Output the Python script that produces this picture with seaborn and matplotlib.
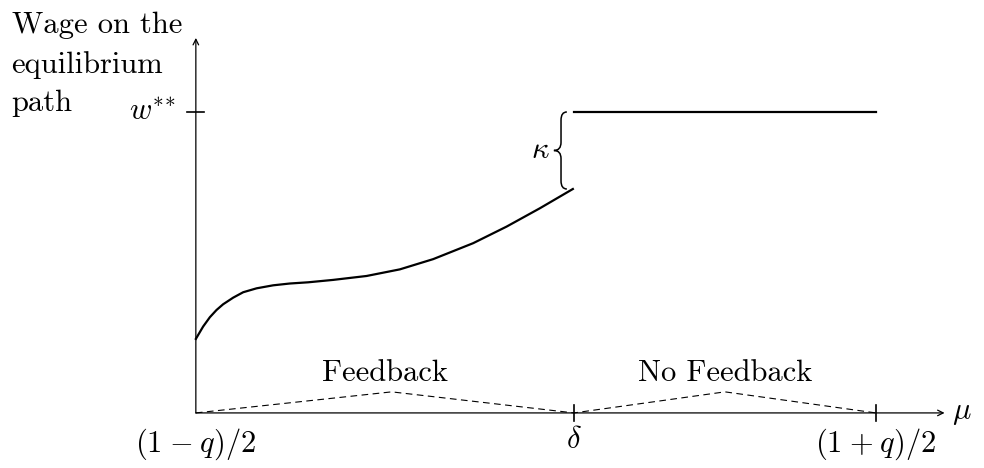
import pandas as pd
import seaborn as sns
import matplotlib
matplotlib.use("Agg")
from matplotlib import pyplot as plt
from matplotlib.path import Path
from matplotlib.patches import PathPatch

# wage on the equilibrium path (feedback region)
mu_feedback = [0.0, 0.0107, 0.0206, 0.0304, 0.0401, 0.0549, 0.0696, 0.0893,
               0.1137, 0.1382, 0.1651, 0.2019, 0.2510, 0.300, 0.349, 0.4078,
               0.4569, 0.5059, 0.5544]
wage_feedback = [0.246, 0.287, 0.318, 0.342, 0.361, 0.383, 0.401, 0.414,
                 0.424, 0.430, 0.434, 0.442, 0.455, 0.477, 0.511, 0.564,
                 0.619, 0.680, 0.744]

# wage in the no-feedback region (w**)
mu_nofeedback = [0.556, 1.0]
wage_nofeedback = [1.0, 1.0]

# dashed region markers
mu_regions = [0.0, 0.288, 0.556, 0.778, 1.0]
h_regions = [0.0, 0.07, 0.0, 0.07, 0.0]

delta = 0.556
w_star = 1.0
x_ticks = [0.0, delta, 1.0]
x_tick_labels = [r"$(1\hspace{0.06}-\hspace{0.06}q)/2$", r"$\delta$",
                 r"$(1\hspace{0.06}+\hspace{0.06}q)/2$"]
y_label_lines = ["Wage on the", "equilibrium", "path"]

plt.rcParams["mathtext.fontset"] = "cm"
plt.rcParams["font.family"] = ["cmr10", "DejaVu Serif"]
plt.rcParams["axes.unicode_minus"] = False

fig = plt.figure(figsize=(9.84, 4.68), dpi=100)
ax = fig.add_axes([0, 0, 1, 1])
ax.set_xlim(-0.288, 1.159)
ax.set_ylim(-0.183, 1.372)
ax.axis("off")

fb = pd.DataFrame({"mu": mu_feedback, "wage": wage_feedback})
nfb = pd.DataFrame({"mu": mu_nofeedback, "wage": wage_nofeedback})
reg = pd.DataFrame({"mu": mu_regions, "h": h_regions})

sns.lineplot(data=fb, x="mu", y="wage", color="black", lw=1.6, estimator=None, ax=ax)
sns.lineplot(data=nfb, x="mu", y="wage", color="black", lw=1.6, estimator=None, ax=ax)
sns.lineplot(data=reg, x="mu", y="h", color="black", lw=0.8, estimator=None,
             sort=False, linestyle=(0, (6, 4)), ax=ax)

# axes with arrows
ax.annotate("", xy=(1.101, 0), xytext=(0, 0),
            arrowprops=dict(arrowstyle="->", lw=0.9, color="black", shrinkA=0, shrinkB=0))
ax.annotate("", xy=(0, 1.246), xytext=(0, 0),
            arrowprops=dict(arrowstyle="->", lw=0.9, color="black", shrinkA=0, shrinkB=0))

# ticks
for xt in x_ticks[1:]:
    ax.plot([xt, xt], [-0.027, 0.027], color="black", lw=1.2)
ax.plot([-0.0125, 0.0125], [w_star, w_star], color="black", lw=1.2)

fs = 22
for xt, lab in zip(x_ticks, x_tick_labels):
    ax.text(xt, -0.045, lab, ha="center", va="top", fontsize=fs)
ax.text(1.112, 0.0, r"$\mu$", ha="left", va="center", fontsize=fs)
ax.text(-0.03, w_star, r"$w^{*\!*}$", ha="right", va="center", fontsize=fs)

# y-axis label, one line at a time
for yy, line in zip([1.262, 1.130, 1.003], y_label_lines):
    ax.text(-0.271, yy, line, ha="left", va="baseline", fontsize=fs)

ax.text(0.278, 0.085, "Feedback", ha="center", va="bottom", fontsize=fs)
ax.text(0.778, 0.085, "No Feedback", ha="center", va="bottom", fontsize=fs)

# curly brace marking the jump kappa
xe, xm, xt_ = 0.5456, 0.537, 0.5265
yt, yb = 1.0, 0.744
ym = (yt + yb) / 2
r = 0.027
verts = [(xe, yt), (xm, yt), (xm, yt - r), (xm, ym + r), (xm, ym), (xt_, ym),
         (xm, ym), (xm, ym - r), (xm, yb + r), (xm, yb), (xe, yb)]
codes = [Path.MOVETO, Path.CURVE3, Path.CURVE3, Path.LINETO, Path.CURVE3, Path.CURVE3,
         Path.CURVE3, Path.CURVE3, Path.LINETO, Path.CURVE3, Path.CURVE3]
ax.add_patch(PathPatch(Path(verts, codes), facecolor="none", edgecolor="black", lw=1.1))
ax.text(0.507, ym, r"$\kappa$", ha="center", va="center", fontsize=fs)

fig.savefig("out.png", dpi=100)
